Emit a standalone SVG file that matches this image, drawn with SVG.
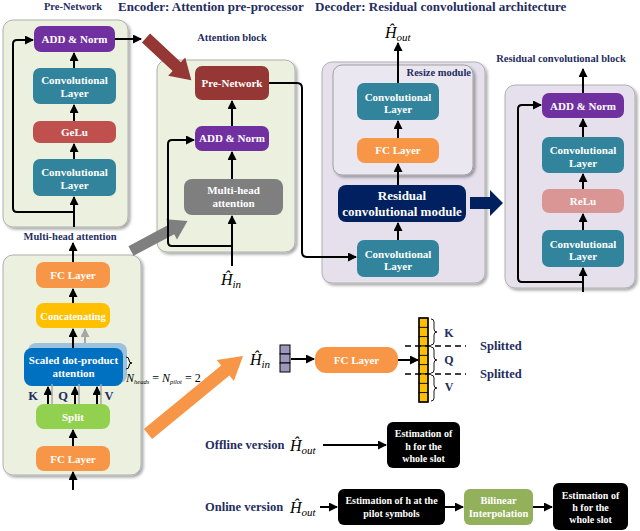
<svg xmlns="http://www.w3.org/2000/svg" width="640" height="531" viewBox="0 0 640 531">
<defs>
<filter id="sh" x="-10%" y="-10%" width="120%" height="120%">
<feDropShadow dx="2" dy="2" stdDeviation="1.5" flood-color="#000" flood-opacity="0.35"/>
</filter>
<marker id="ah" markerUnits="userSpaceOnUse" markerWidth="9" markerHeight="9" refX="8" refY="4.5" orient="auto">
<path d="M0,0 L9,4.5 L0,9 z" fill="#000"/>
</marker>
<marker id="ahg" markerUnits="userSpaceOnUse" markerWidth="9" markerHeight="9" refX="8" refY="4.5" orient="auto">
<path d="M0,0 L9,4.5 L0,9 z" fill="#a6a6a6"/>
</marker>
<style>
.pg{fill:#ebf1de;stroke:#b0b0b0;stroke-width:1;filter:url(#sh)}
.pp{fill:#e5e0ec;stroke:#b0b0b0;stroke-width:1;filter:url(#sh)}
.t{font-family:"Liberation Serif","Times New Roman",serif;font-weight:bold;fill:#fff;font-size:11px;text-anchor:middle}
.s{font-size:10px}
.hd{font-family:"Liberation Serif","Times New Roman",serif;font-weight:bold;fill:#1f2d5f;font-size:10.5px;text-anchor:middle}
.big{font-size:13px;text-anchor:start}
.lb{font-family:"Liberation Serif","Times New Roman",serif;font-weight:bold;fill:#1f2d5f;font-size:12.5px}
.m{font-family:"Liberation Serif","Times New Roman",serif;font-style:italic;fill:#000;font-size:16px}
.sub{font-size:11px}
.c{stroke:#000;stroke-width:2;fill:none;marker-end:url(#ah)}
.teal{fill:#31849b}.pur{fill:#7030a0}.org{fill:#f79646}.blk{fill:#000}
</style>
</defs>

<!-- headings -->
<text class="hd" x="73" y="10">Pre-Network</text>
<text class="hd big" x="118" y="11">Encoder: Attention pre-processor</text>
<text class="hd big" x="315" y="11">Decoder: Residual convolutional architecture</text>
<text class="hd" x="232" y="41">Attention block</text>
<text class="hd" x="561" y="62">Residual convolutional block</text>
<text class="hd" x="70" y="240">Multi-head attention</text>

<!-- panels -->
<g id="pre-network-panel"><rect class="pg" x="3" y="20" width="125" height="207" rx="10"/></g>
<g id="attention-block-panel"><rect class="pg" x="157" y="60" width="138" height="192" rx="10"/></g>
<g id="decoder-panel"><rect class="pp" x="322" y="62" width="163" height="221" rx="10"/></g>
<g id="resize-module"><rect x="333" y="65" width="140" height="110" rx="9" fill="#ebe7f1" stroke="#a0a0a0" stroke-width="1" filter="url(#sh)"/>
<text class="hd s" x="471" y="76" style="text-anchor:end">Resize module</text></g>
<g id="residual-block-panel"><rect class="pp" x="505" y="85" width="130" height="203" rx="10"/></g>
<g id="mha-panel"><rect class="pg" x="3" y="255" width="138" height="220" rx="10"/></g>

<!-- big arrows -->
<g id="big-arrows">
<polygon transform="translate(146,38) rotate(43)" points="0,-6 42,-6 42,-12.5 62,0 42,12.5 42,6 0,6" fill="#953735"/>
<polygon transform="translate(131,251) rotate(-28)" points="0,-5.5 46,-5.5 46,-11.5 64,0 46,11.5 46,5.5 0,5.5" fill="#7f7f7f"/>
<polygon transform="translate(148,434) rotate(-39.4)" points="0,-6.5 100,-6.5 100,-13.5 123,0 100,13.5 100,6.5 0,6.5" fill="#f79646"/>
<polygon points="470,197 490,197 490,190 503,203 490,216 490,209 470,209" fill="#002060"/>
</g>

<!-- Pre-Network nodes -->
<g id="pn-add"><rect class="pur" x="34" y="26" width="81" height="26" rx="7"/><text class="t" x="74.5" y="43">ADD &amp; Norm</text></g>
<g id="pn-conv2"><rect class="teal" x="33" y="68" width="83" height="36" rx="7"/><text class="t" x="74.5" y="84">Convolutional</text><text class="t" x="74.5" y="97">Layer</text></g>
<g id="pn-gelu"><rect x="33" y="121" width="83" height="22" rx="7" fill="#c0504d"/><text class="t" x="74.5" y="136">GeLu</text></g>
<g id="pn-conv1"><rect class="teal" x="33" y="159" width="83" height="37" rx="7"/><text class="t" x="74.5" y="176">Convolutional</text><text class="t" x="74.5" y="189">Layer</text></g>

<!-- Attention block nodes -->
<g id="at-pre"><rect x="195" y="66" width="74" height="34" rx="7" fill="#953735"/><text class="t" x="232" y="87">Pre-Network</text></g>
<g id="at-add"><rect class="pur" x="195" y="126" width="74" height="25" rx="7"/><text class="t" x="232" y="142">ADD &amp; Norm</text></g>
<g id="at-mha"><rect x="184" y="179" width="99" height="36" rx="8" fill="#7f7f7f"/><text class="t" x="233.5" y="194">Multi-head</text><text class="t" x="233.5" y="207">attention</text></g>
<g id="at-hin"><text class="m" x="221" y="285">Ĥ<tspan class="sub" dy="3">in</tspan></text></g>

<!-- Decoder nodes -->
<g id="dec-conv-top"><rect class="teal" x="357" y="83" width="82" height="37" rx="7"/><text class="t" x="398" y="100.5">Convolutional</text><text class="t" x="398" y="113">Layer</text></g>
<g id="dec-fc"><rect class="org" x="357" y="138" width="82" height="25" rx="8"/><text class="t" x="398" y="154">FC Layer</text></g>
<g id="dec-res"><rect x="338" y="185" width="128" height="37" rx="8" fill="#002060"/><text class="t" x="402" y="200" style="font-size:13px">Residual</text><text class="t" x="402" y="215.5" style="font-size:13px">convolutional module</text></g>
<g id="dec-conv-bot"><rect class="teal" x="357" y="240" width="82" height="37" rx="7"/><text class="t" x="398" y="257.5">Convolutional</text><text class="t" x="398" y="270">Layer</text></g>
<g id="dec-hout"><text class="m" x="385" y="38">Ĥ<tspan class="sub" dy="3">out</tspan></text></g>

<!-- Residual block nodes -->
<g id="rb-add"><rect class="pur" x="542" y="93" width="82" height="25" rx="7"/><text class="t" x="583" y="109.5">ADD &amp; Norm</text></g>
<g id="rb-conv2"><rect class="teal" x="542" y="137" width="82" height="36" rx="7"/><text class="t" x="583" y="154">Convolutional</text><text class="t" x="583" y="166.5">Layer</text></g>
<g id="rb-relu"><rect x="542" y="189" width="82" height="24" rx="7" fill="#d99694"/><text class="t" x="583" y="205">ReLu</text></g>
<g id="rb-conv1"><rect class="teal" x="542" y="230" width="82" height="37" rx="7"/><text class="t" x="583" y="247.5">Convolutional</text><text class="t" x="583" y="260">Layer</text></g>

<!-- Multi-head attention nodes -->
<g id="mh-fc-top"><rect class="org" x="36" y="262" width="74" height="26" rx="8"/><text class="t" x="73" y="279">FC Layer</text></g>
<g id="mh-concat"><rect x="36" y="303" width="74" height="25" rx="8" fill="#ffc000"/><text class="t" x="73" y="319.5" style="font-size:10.5px">Concatenating</text></g>
<g id="mh-sdpa"><rect x="28" y="343" width="99" height="40" rx="8" fill="#9cc2e0"/><rect x="24" y="348" width="99" height="38" rx="8" fill="#0070c0"/><text class="t" x="73.5" y="364">Scaled dot-product</text><text class="t" x="73.5" y="377">attention</text></g>
<g id="mh-split"><rect x="36" y="404" width="74" height="25" rx="8" fill="#92d050"/><text class="t" x="73" y="420.5">Split</text></g>
<g id="mh-fc-bot"><rect class="org" x="36" y="446" width="74" height="25" rx="8"/><text class="t" x="73" y="462.5">FC Layer</text></g>
<g id="mh-kqv"><text class="lb" x="33" y="400" text-anchor="middle">K</text><text class="lb" x="63" y="400" text-anchor="middle">Q</text><text class="lb" x="109" y="400" text-anchor="middle">V</text></g>
<g id="mh-heads"><path d="M126,357 q3,0 3,3 q0,3 3,3 q-3,0 -3,3 q0,3 -3,3" fill="none" stroke="#000" stroke-width="1"/>
<text x="126" y="382" style="font-family:'Liberation Serif',serif;font-style:italic;font-size:12px">N<tspan font-size="6.5" dy="2">heads</tspan><tspan dy="-2" font-style="normal"> = </tspan>N<tspan font-size="6.5" dy="2">pilot</tspan><tspan dy="-2" font-style="normal"> = 2</tspan></text></g>

<!-- Q K V generation -->
<g id="kqv-input"><text class="m" x="250" y="365">Ĥ<tspan class="sub" dy="3">in</tspan></text>
<rect x="280" y="345" width="10" height="9" fill="#9d97bd" stroke="#000" stroke-width="1"/><rect x="280" y="354" width="10" height="9" fill="#9d97bd" stroke="#000" stroke-width="1"/><rect x="280" y="363" width="10" height="9" fill="#9d97bd" stroke="#000" stroke-width="1"/></g>
<g id="kqv-fc"><rect class="org" x="315" y="347" width="83" height="26" rx="11"/><text class="t" x="356.5" y="364">FC Layer</text></g>
<g id="kqv-vector" stroke="#000" stroke-width="0.8" fill="#ffc000">
<rect x="419" y="318" width="9" height="9.33"/><rect x="419" y="327.33" width="9" height="9.33"/><rect x="419" y="336.67" width="9" height="9.33"/>
<rect x="419" y="346" width="9" height="9.33"/><rect x="419" y="355.33" width="9" height="9.33"/><rect x="419" y="364.67" width="9" height="9.33"/>
<rect x="419" y="374" width="9" height="9.33"/><rect x="419" y="383.33" width="9" height="9.33"/><rect x="419" y="392.67" width="9" height="9.33"/>
<rect x="419" y="318" width="9" height="84" fill="none" stroke-width="1.5"/>
</g>
<g id="kqv-braces" fill="none" stroke="#000" stroke-width="0.9">
<path d="M431,319 q3,0 3,3 v7 q0,3 3,3 q-3,0 -3,3 v7 q0,3 -3,3"/>
<path d="M431,347 q3,0 3,3 v7 q0,3 3,3 q-3,0 -3,3 v7 q0,3 -3,3"/>
<path d="M431,375 q3,0 3,3 v7 q0,3 3,3 q-3,0 -3,3 v7 q0,3 -3,3"/>
</g>
<g id="kqv-split-lines" stroke="#000" stroke-width="1.3" stroke-dasharray="6,4"><line x1="405" y1="346" x2="466" y2="346"/><line x1="405" y1="374" x2="466" y2="374"/></g>
<g id="kqv-labels"><text class="lb" x="449" y="337" text-anchor="middle" style="font-size:12px">K</text><text class="lb" x="449" y="364" text-anchor="middle" style="font-size:12px">Q</text><text class="lb" x="449" y="391" text-anchor="middle" style="font-size:12px">V</text>
<text class="lb" x="480" y="350">Splitted</text><text class="lb" x="480" y="378">Splitted</text></g>

<!-- Offline / Online -->
<g id="offline"><text class="lb" x="205" y="449">Offline version</text><text class="m" x="290" y="451">Ĥ<tspan class="sub" dy="3">out</tspan></text></g>
<g id="off-est"><rect class="blk" x="387" y="422" width="73" height="46" rx="6"/><text class="t s" x="423.5" y="437">Estimation of</text><text class="t s" x="423.5" y="449.5">h for the</text><text class="t s" x="423.5" y="462">whole slot</text></g>
<g id="online"><text class="lb" x="205" y="511">Online version</text><text class="m" x="290" y="513">Ĥ<tspan class="sub" dy="3">out</tspan></text></g>
<g id="on-est1"><rect class="blk" x="338" y="489" width="107" height="36" rx="6"/><text class="t s" x="391.5" y="503.5">Estimation of h at the</text><text class="t s" x="391.5" y="516.5">pilot symbols</text></g>
<g id="on-bilinear"><rect x="464" y="489" width="69" height="36" rx="6" fill="#93b05a"/><text class="t" x="498.5" y="503.5" style="font-size:10.5px">Bilinear</text><text class="t" x="498.5" y="516.5" style="font-size:10.5px">Interpolation</text></g>
<g id="on-est2"><rect class="blk" x="553" y="483" width="75" height="47" rx="6"/><text class="t s" x="590.5" y="498.5">Estimation of</text><text class="t s" x="590.5" y="510.5">h for the</text><text class="t s" x="590.5" y="522.5">whole slot</text></g>

<!-- connectors -->
<g id="connectors">
<path class="c" d="M74,227 V197"/>
<path class="c" d="M74,212 H17 Q13,212 13,208 V44 Q13,40 17,40 H33"/>
<path class="c" d="M74,159 V144"/>
<path class="c" d="M74,121 V105"/>
<path class="c" d="M74,68 V53"/>
<path class="c" d="M115,39 H141"/>

<path class="c" d="M232,266 V216"/>
<path class="c" d="M232,246 H172 Q168,246 168,242 V144 Q168,140 172,140 H194"/>
<path class="c" d="M232,179 V152"/>
<path class="c" d="M232,126 V101"/>
<path class="c" d="M269,83 H297 Q302,83 302,88 V252 Q302,257 307,257 H356"/>

<path class="c" d="M398,240 V223"/>
<path class="c" d="M398,185 V164"/>
<path class="c" d="M398,138 V121"/>
<path class="c" d="M398,83 V43"/>

<path class="c" d="M583,292 V268"/>
<path class="c" d="M583,282 H522 Q518,282 518,278 V109 Q518,105 522,105 H541"/>
<path class="c" d="M583,230 V214"/>
<path class="c" d="M583,189 V174"/>
<path class="c" d="M583,137 V119"/>
<path class="c" d="M583,93 V69"/>

<path class="c" d="M73,490 V472"/>
<path class="c" d="M73,446 V430"/>
<path class="c" d="M48,404 V387"/>
<path class="c" d="M75,404 V387"/>
<path class="c" d="M97,404 V387"/>
<path d="M52,404 V384 M79,404 V384 M101,404 V384" stroke="#a6a6a6" stroke-width="1.5" fill="none"/>
<path class="c" d="M73,348 V329"/>
<path d="M85,343 V329" stroke="#a6a6a6" stroke-width="2" fill="none" marker-end="url(#ahg)"/>
<path class="c" d="M73,303 V289"/>
<path class="c" d="M73,262 V243"/>

<path class="c" d="M291,359 H314"/>
<path class="c" d="M398,360 H418"/>

<path class="c" d="M323,445 H386"/>
<path class="c" d="M320,507 H337"/>
<path class="c" d="M445,507 H463"/>
<path class="c" d="M533,507 H552"/>
</g>
</svg>
